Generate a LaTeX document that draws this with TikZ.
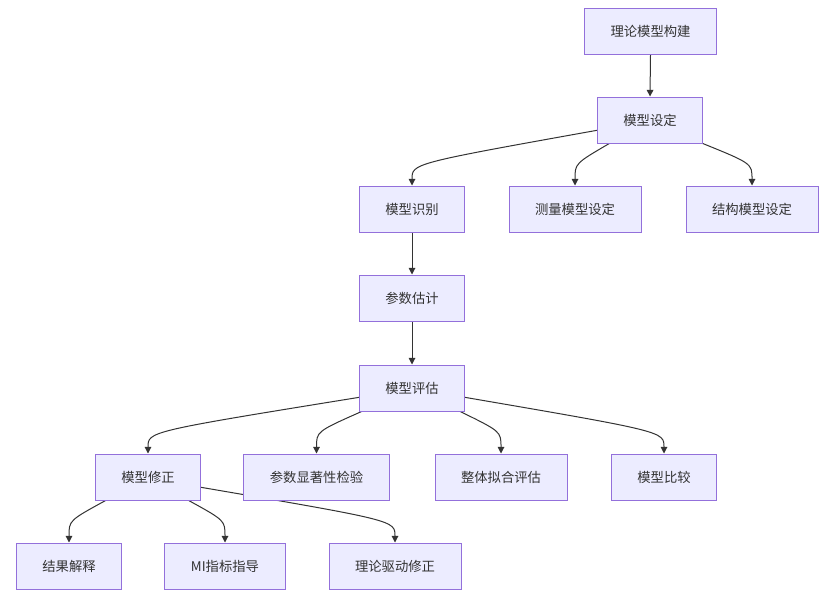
\documentclass[tikz,border=0pt]{standalone}
\usepackage{fontspec}
\setmainfont{Noto Sans CJK SC}
\usepackage{tikz}
\usetikzlibrary{arrows.meta,positioning,calc,backgrounds}
\definecolor{mmfill}{HTML}{ECECFF}
\definecolor{mmline}{HTML}{9370DB}
\definecolor{mmtext}{HTML}{333333}

\begin{document}
\begin{tikzpicture}
[ x=0.75pt, y=-0.75pt,
  box/.style={ draw=mmline, fill=mmfill, line width=0.75pt,
    minimum height=34.5pt, inner xsep=19.5pt,
    font=\fontsize{10}{12}\selectfont, text=mmtext
    },
  arr/.style={ draw=mmtext, line width=0.75pt,
    -{Triangle[length=5pt,width=5pt]}
    }
]
\useasboundingbox (0,0) rectangle (830,596);

% levels
\node[box] (th) at (650.5,31)  {理论模型构建};
\node[box] (sd) at (650,120)   {模型设定};
\node[box] (sb) at (412,209)   {模型识别};
\node[box] (cl) at (575,209)   {测量模型设定};
\node[box] (jg) at (752,209)   {结构模型设定};
\node[box] (gj) at (412,298)   {参数估计};
\node[box] (pg) at (412,388)   {模型评估};
\node[box] (xz) at (148,477)   {模型修正};
\node[box] (xy) at (316.5,477) {参数显著性检验};
\node[box] (nh) at (501,477)   {整体拟合评估};
\node[box] (bj) at (664,477)   {模型比较};
\node[box] (js) at (69,566)    {结果解释};
\node[box] (mi) at (225,566)   {MI指标指导};
\node[box] (ll) at (395,566)   {理论驱动修正};

\begin{scope}[on background layer]
  \fill[white] (0,0) rectangle (830,596);
  \draw[arr] (th.south) -- (sd.north);
  \draw[arr] (sd.191) .. controls ($(sb.north)+(0,-22)$) .. (sb.north);
  \draw[arr] (sd.210) .. controls ($(cl.north)+(0,-22)$) .. (cl.north);
  \draw[arr] (sd.-24)  .. controls ($(jg.north)+(0,-22)$) .. (jg.north);
  \draw[arr] (sb.south) -- (gj.north);
  \draw[arr] (gj.south) -- (pg.north);
  \draw[arr] (pg.190) .. controls ($(xz.north)+(0,-22)$) .. (xz.north);
  \draw[arr] (pg.205) .. controls ($(xy.north)+(0,-22)$) .. (xy.north);
  \draw[arr] (pg.-26) .. controls ($(nh.north)+(0,-22)$) .. (nh.north);
  \draw[arr] (pg.-10) .. controls ($(bj.north)+(0,-22)$) .. (bj.north);
  \draw[arr] (xz.209) .. controls ($(js.north)+(0,-22)$) .. (js.north);
  \draw[arr] (xz.-30) .. controls ($(mi.north)+(0,-22)$) .. (mi.north);
  \draw[arr] (xz.-11) .. controls ($(ll.north)+(0,-22)$) .. (ll.north);
\end{scope}
\end{tikzpicture}
\end{document}
